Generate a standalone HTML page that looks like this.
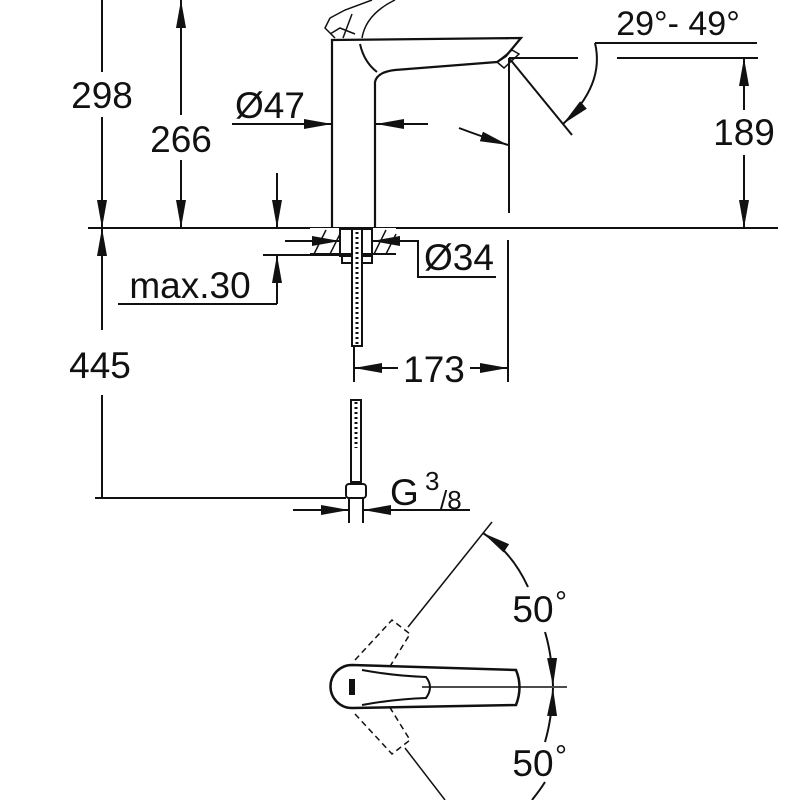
<!DOCTYPE html>
<html><head><meta charset="utf-8"><style>html,body{margin:0;padding:0;background:#fff}svg{display:block}text{font-family:"Liberation Sans",sans-serif;fill:#111}</style></head>
<body>
<svg width="800" height="800" viewBox="0 0 800 800" xmlns="http://www.w3.org/2000/svg">
<defs>
<marker id="b" markerWidth="28" markerHeight="10" refX="28" refY="5" orient="auto" markerUnits="userSpaceOnUse" viewBox="0 0 28 10"><path d="M0,0 L28,5 L0,10Z" fill="#111"/></marker>
</defs>
<g stroke="#111" stroke-width="2" fill="none">
<line x1="88" y1="228" x2="778" y2="228"/>
<line x1="102" y1="0" x2="102" y2="72"/>
<line x1="102" y1="117" x2="102" y2="228" marker-end="url(#b)"/>
<line x1="102" y1="330" x2="102" y2="228" marker-end="url(#b)"/>
<line x1="102" y1="395" x2="102" y2="498"/>
<line x1="181" y1="115" x2="181" y2="0" marker-end="url(#b)"/>
<line x1="181" y1="160" x2="181" y2="228" marker-end="url(#b)"/>
<line x1="277" y1="173" x2="277" y2="228" marker-end="url(#b)"/>
<line x1="277" y1="304" x2="277" y2="255" marker-end="url(#b)"/>
<line x1="118" y1="304" x2="277" y2="304"/>
<line x1="263" y1="255" x2="340" y2="255"/>
<line x1="285" y1="241" x2="310" y2="241"/>
<line x1="232" y1="124" x2="332" y2="124" marker-end="url(#b)"/>
<line x1="428" y1="124" x2="376" y2="124" marker-end="url(#b)"/>
<path d="M332,228 L332,40 L521,38 L506,56 L497,62 L395,70 Q377,72 375,82 L375,228" stroke-width="2.2"/>
<path d="M360,44 Q364,62 377,72"/>
<path d="M497,62 L504,68 L519,54 L512,50Z" stroke-width="1.5"/>
<path d="M335,38 L325,28 L330,18 L345,10 L372,0 M343,38 L352,14 M362,38 Q366,14 395,0 M330,34 L340,28 L355,34" stroke-width="1.5"/>
<line x1="509" y1="58" x2="509" y2="213"/>
<line x1="509" y1="58" x2="578" y2="58"/>
<line x1="617" y1="58" x2="758" y2="58"/>
<line x1="595" y1="43" x2="757" y2="43"/>
<line x1="509" y1="58" x2="572" y2="135"/>
<path d="M595,43 Q605,85 563,124" marker-end="url(#b)"/>
<path d="M459,128 Q480,136 508,145" marker-end="url(#b)"/>
<line x1="744" y1="110" x2="744" y2="58" marker-end="url(#b)"/>
<line x1="744" y1="155" x2="744" y2="228" marker-end="url(#b)"/>
<rect x="310" y="228" width="86" height="26" stroke="none" fill="#fff"/>
<line x1="310" y1="254" x2="396" y2="254"/>
<line x1="310" y1="241" x2="340" y2="241" marker-end="url(#b)"/>
<line x1="410" y1="241" x2="372" y2="241" marker-end="url(#b)"/>
<g stroke-width="1.5"><line x1="314" y1="254" x2="326" y2="230"/><line x1="330" y1="254" x2="340" y2="234"/><line x1="374" y1="254" x2="386" y2="230"/><line x1="386" y1="254" x2="396" y2="234"/></g>
<rect x="340" y="229" width="32" height="27"/>
<rect x="342" y="256" width="30" height="7"/>
<rect x="352" y="229" width="10" height="117" fill="#fff"/>
<line x1="357" y1="232" x2="357" y2="344" stroke-dasharray="2,3" stroke-width="3"/>
<polyline points="396,241 418,241 418,277 496,277"/>
<line x1="354" y1="346" x2="354" y2="382"/>
<line x1="508" y1="240" x2="508" y2="382"/>
<line x1="398" y1="368" x2="354" y2="368" marker-end="url(#b)"/>
<line x1="470" y1="368" x2="508" y2="368" marker-end="url(#b)"/>
<rect x="351" y="400" width="10" height="82"/>
<line x1="356" y1="402" x2="356" y2="448" stroke-dasharray="2,3" stroke-width="3"/>
<rect x="346" y="484" width="20" height="14" rx="3"/>
<line x1="349" y1="498" x2="349" y2="523"/>
<line x1="363" y1="498" x2="363" y2="523"/>
<line x1="95" y1="498" x2="346" y2="498"/>
<line x1="293" y1="510" x2="349" y2="510" marker-end="url(#b)"/>
<line x1="470" y1="510" x2="363" y2="510" marker-end="url(#b)"/>
<path d="M352,665 L516,670 Q523,687 516,705 L352,708 A21,21 0 0 1 352,665Z" stroke-width="2.5"/>
<path d="M362,670 Q395,676 426,677 Q434,687 426,698 Q395,699 362,705"/>
<path d="M350,680 L354,680 L354,694 L350,694Z" fill="#111"/>
<line x1="422" y1="687" x2="567" y2="687" stroke-width="1.5"/>
<line x1="408" y1="627" x2="492" y2="522" stroke-width="1.5"/>
<line x1="405" y1="748" x2="445" y2="800" stroke-width="1.5"/>
<path d="M355,660 L392,620 L410,634 L389,668" stroke-dasharray="6,4" stroke-width="1.5"/>
<path d="M355,714 L392,754 L410,740 L389,706" stroke-dasharray="6,4" stroke-width="1.5"/>
<path d="M528,587 Q512,552 483,533" marker-end="url(#b)"/>
<path d="M545,632 Q552,655 553,686" marker-end="url(#b)"/>
<path d="M545,742 Q552,718 553,688" marker-end="url(#b)"/>
<path d="M532,800 Q540,790 545,782"/>
</g>
<g font-size="37" text-anchor="middle">
<text x="102" y="108">298</text>
<text x="181" y="152">266</text>
<text x="190" y="298">max.30</text>
<text x="270" y="118">Ø47</text>
<text x="678" y="35" font-size="34">29°- 49°</text>
<text x="744" y="145">189</text>
<text x="459" y="270">Ø34</text>
<text x="434" y="382">173</text>
<text x="100" y="378">445</text>
<text x="533" y="622">50</text>
<text x="533" y="776">50</text>
</g>
<g font-size="37">
<text x="390" y="505">G</text>
<text x="425" y="490" font-size="26">3</text>
<text x="440" y="509" font-size="26">/8</text>
<text x="555" y="612" font-size="30">°</text>
<text x="555" y="766" font-size="30">°</text>
</g>
</svg>
</body></html>
